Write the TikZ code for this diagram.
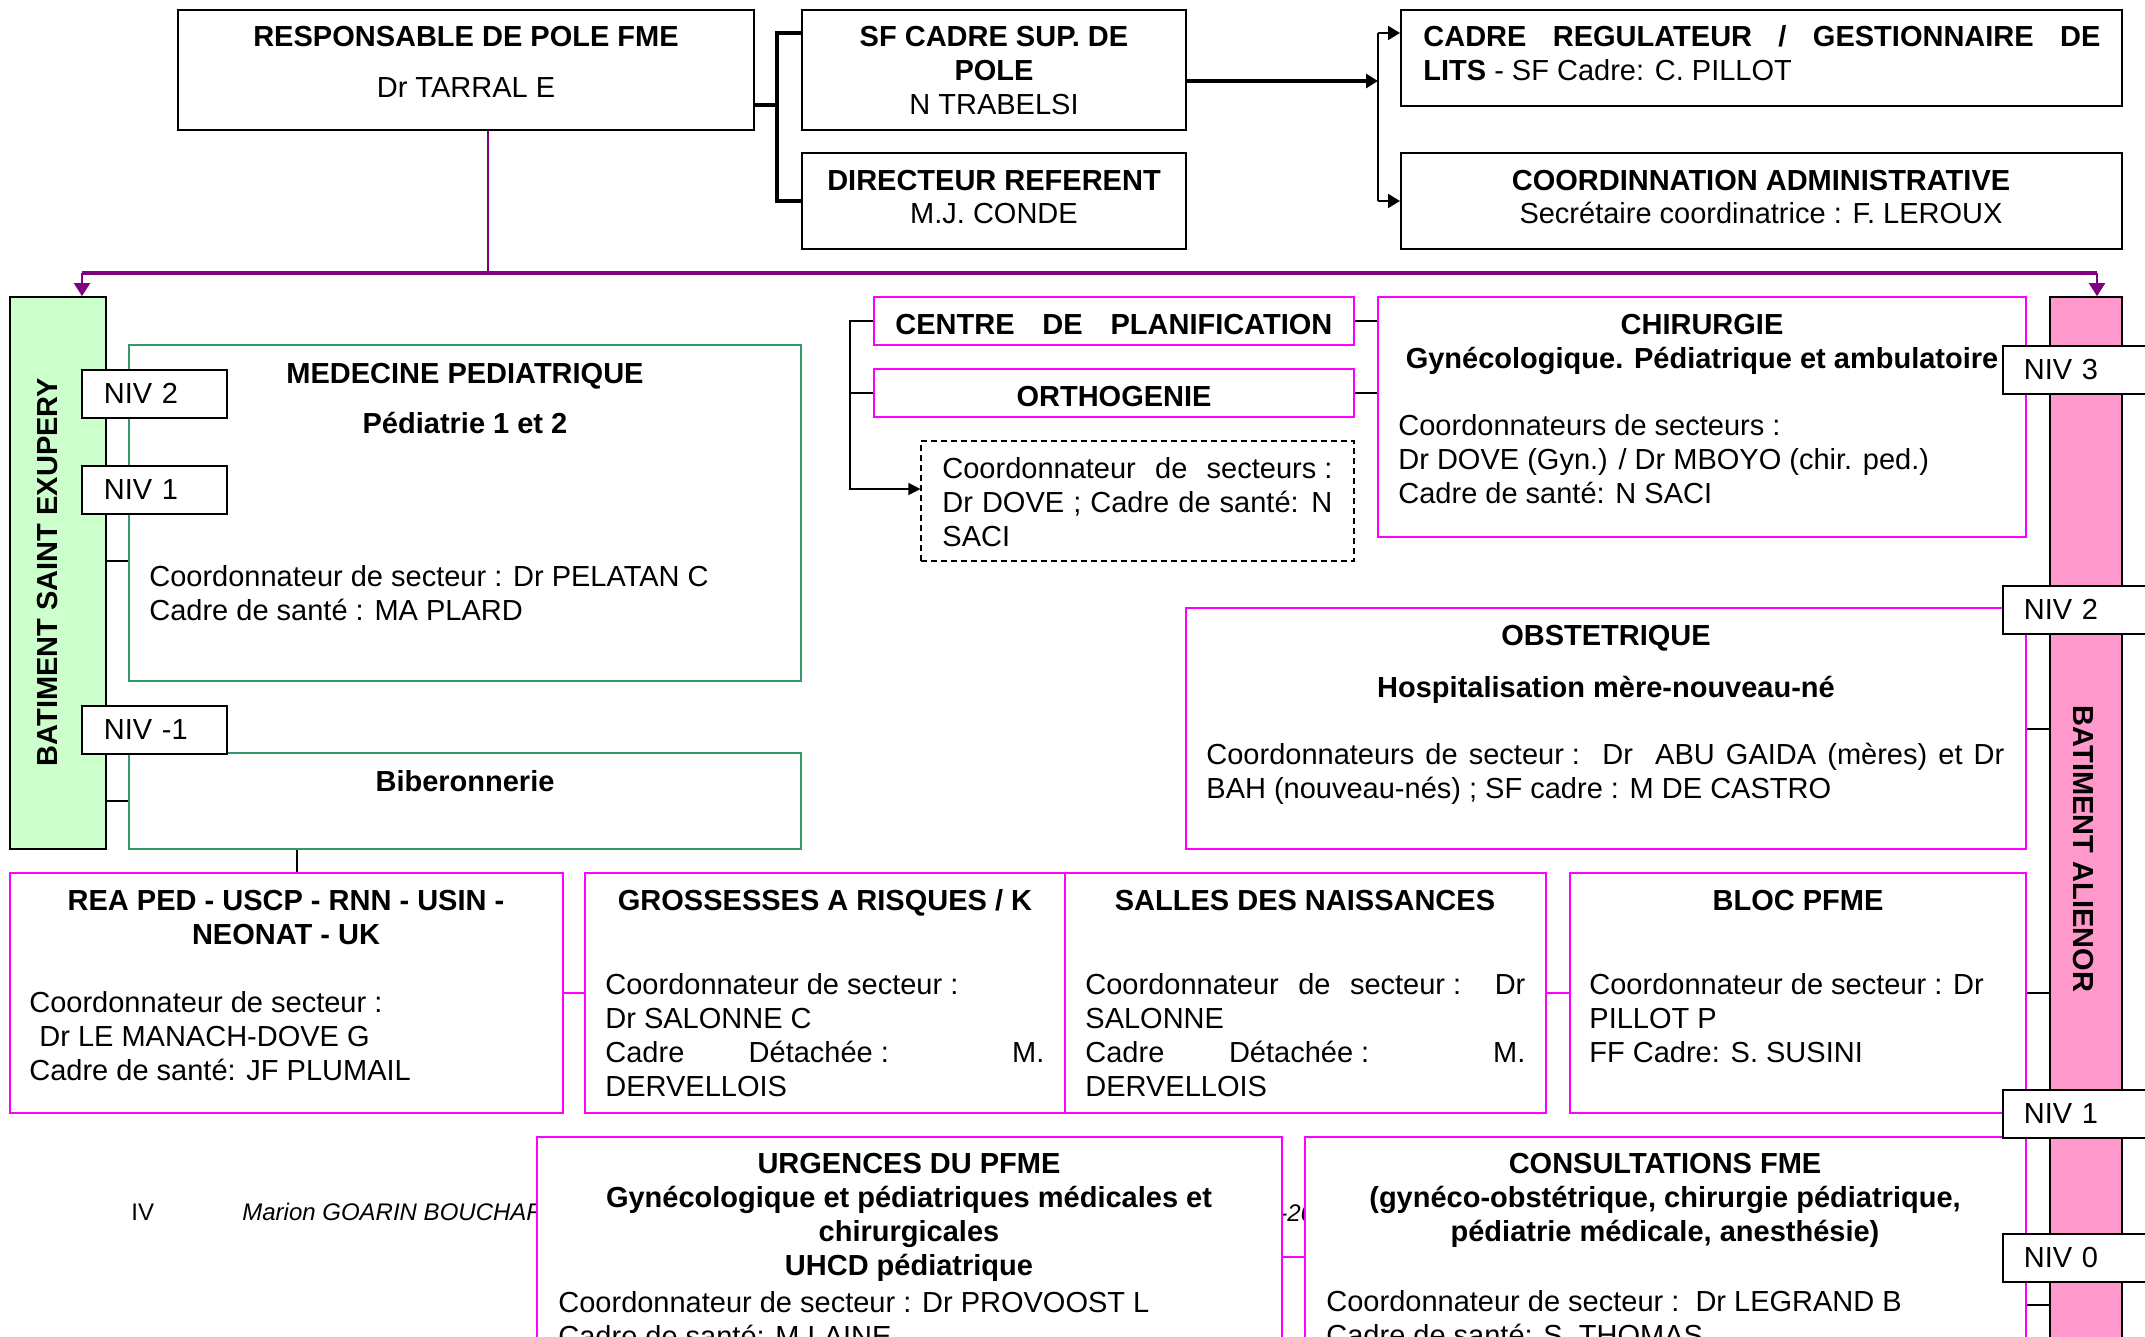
\documentclass[tikz,border=0pt]{standalone}
\usepackage{fontspec}
\setmainfont{Liberation Sans}
\usetikzlibrary{arrows.meta,fit,positioning}

\definecolor{fmemag}{RGB}{255,0,255}
\definecolor{fmevert}{RGB}{51,153,102}
\definecolor{fmevertclair}{RGB}{204,255,204}
\definecolor{fmerose}{RGB}{255,153,204}
\definecolor{fmeviolet}{RGB}{128,0,128}

\newcommand{\corps}{\fontsize{14.5}{17}\selectfont}
\newcommand{\pied}{\fontsize{12}{14}\selectfont}
\newcommand{\just}[2]{\makebox[#1][s]{#2}}
\newcommand{\deuxpts}{\hspace{4pt}:}

\begin{document}
\begin{tikzpicture}[x=0.5pt,y=-0.5pt,
    boite/.style={draw,line width=1pt,fill=white,inner sep=0pt},
    magbox/.style={draw=fmemag,line width=0.75pt,fill=white,inner sep=0pt},
    vertbox/.style={draw=fmevert,line width=0.9pt,fill=white,inner sep=0pt},
    batiment/.style={draw,line width=0.85pt,inner sep=0pt},
    niv/.style={draw,line width=0.85pt,fill=white,anchor=north west,font=\corps,
      minimum height=24pt,inner ysep=0pt,align=left},
    nivg/.style={niv,inner xsep=11pt,text width=50.5pt},
    nivd/.style={niv,inner xsep=10.5pt,text width=63pt},
    titre/.style={font=\corps\bfseries,align=center,anchor=base,inner sep=0pt},
    texte/.style={font=\corps,align=left,anchor=base west,inner sep=0pt},
    lien/.style={draw,line width=1.6pt},
    fleche/.style={lien,-{Triangle[length=6pt,width=7pt]}},
    violet/.style={draw=fmeviolet,line width=1pt},
    flecheviolette/.style={violet,-{Triangle[length=6.5pt,width=8pt]}},
    trait/.style={draw,line width=0.65pt},
    traitmag/.style={draw=fmemag,line width=0.75pt}]

  \useasboundingbox (0,0) rectangle (2145,1337);
  \clip (0,0) rectangle (2145,1337);
  \fill[white] (0,0) rectangle (2145,1337);

  % pied de page, en partie sous les cadres
  \begin{scope}[every node/.style={anchor=base west,inner sep=0pt}]
    \node[font=\pied] (pied-num) at (131,1220) {IV};
    \node[font=\pied\itshape] (pied-nom) at (242,1220) {Marion GOARIN BOUCHAR};
    \node[font=\pied\itshape] (pied-an) at (1279,1221) {-20};
  \end{scope}

  % direction
  % (ancre base = ligne de base de la derniere ligne)
  \node[boite,fit={(178,10) (754,130)}] (resp) {};
  \node[boite,fit={(802,10) (1186,130)}] (sfcadre) {};
  \node[boite,fit={(802,153) (1186,249)}] (dir) {};
  \node[boite,fit={(1401,10) (2122,106)}] (cadrereg) {};
  \node[boite,fit={(1401,153) (2122,249)}] (coordadm) {};

  \node[titre] (resp-t) at (466,98) {RESPONSABLE DE POLE FME\\[8.5pt]\mdseries Dr TARRAL E};
  \node[titre] (sfcadre-t) at (994,115) {SF CADRE SUP. DE\\POLE\\\mdseries N TRABELSI};
  \node[titre] (dir-t) at (994,224) {DIRECTEUR REFERENT\\\mdseries M.J. CONDE};
  \node[texte] (cadrereg-t) at (1423,81)
    {\textbf{\just{338.5pt}{CADRE REGULATEUR / GESTIONNAIRE DE}}\\\textbf{LITS} - SF Cadre: C. PILLOT};
  \node[titre] (coordadm-t) at (1761,224) {COORDINNATION ADMINISTRATIVE\\\mdseries Secrétaire coordinatrice : F. LEROUX};

  % services
  \node[vertbox,fit={(129,345) (801,681)}] (med) {};
  \node[vertbox,fit={(129,753) (801,849)}] (bib) {};
  \node[magbox,fit={(874,297) (1354,345)}] (plan) {};
  \node[magbox,fit={(874,369) (1354,417)}] (ortho) {};
  \node[draw,dash pattern=on 3pt off 2pt,line width=0.6pt,fill=white,inner sep=0pt,
    fit={(921,441) (1354,561)}] (coordpl) {};
  \node[magbox,fit={(1378,297) (2026,537)}] (chir) {};
  \node[magbox,fit={(1186,608) (2026,849)}] (obst) {};
  \node[magbox,fit={(10,873) (563,1113)}] (rea) {};
  \node[magbox,fit={(585,873) (1065,1113)}] (gross) {};
  \node[magbox,fit={(1065,873) (1546,1113)}] (salles) {};
  \node[magbox,fit={(1570,873) (2026,1113)}] (bloc) {};
  \node[magbox,fit={(537,1137) (1282,1400)}] (urg) {};
  \node[magbox,fit={(1305,1137) (2026,1400)}] (cons) {};

  \node[titre] (med-t) at (465,433) {MEDECINE PEDIATRIQUE\\[8pt]Pédiatrie 1 et 2};
  \node[texte] (med-c) at (149,620) {Coordonnateur de secteur : Dr PELATAN C\\Cadre de santé : MA PLARD};
  \node[titre] (bib-t) at (465,791) {Biberonnerie};
  \node[texte,font=\corps\bfseries] (plan-t) at (895,334) {\just{218.5pt}{CENTRE DE PLANIFICATION}};
  \node[titre] (ortho-t) at (1114,406) {ORTHOGENIE};
  \node[texte] (coordpl-t) at (942,546)
    {\just{195pt}{Coordonnateur de secteurs\deuxpts}\\\just{195pt}{Dr DOVE ; Cadre de santé: N}\\SACI};
  \node[titre] (chir-t) at (1702,368) {CHIRURGIE\\Gynécologique. Pédiatrique et ambulatoire};
  \node[texte] (chir-c) at (1398,503)
    {Coordonnateurs de secteurs :\\Dr DOVE (Gyn.) / Dr MBOYO (chir. ped.)\\Cadre de santé: N SACI};
  \node[titre] (obst-t) at (1606,697) {OBSTETRIQUE\\[9pt]Hospitalisation mère-nouveau-né};
  \node[texte] (obst-c) at (1206,798)
    {\just{399pt}{Coordonnateurs de secteur\deuxpts\ \ Dr\ \ ABU GAIDA (mères) et Dr}\\BAH (nouveau-nés) ; SF cadre : M DE CASTRO};
  \node[titre] (rea-t) at (286,944) {REA PED - USCP - RNN - USIN -\\NEONAT - UK};
  \node[texte] (rea-c) at (29,1080)
    {Coordonnateur de secteur :\\\hspace*{5pt}Dr LE MANACH-DOVE G\\Cadre de santé: JF PLUMAIL};
  \node[titre] (gross-t) at (825,910) {GROSSESSES A RISQUES / K};
  \node[texte] (gross-c) at (605,1096)
    {Coordonnateur de secteur :\\Dr SALONNE C\\\just{219.5pt}{Cadre Détachée\deuxpts{} M.}\\DERVELLOIS};
  \node[titre] (salles-t) at (1305,910) {SALLES DES NAISSANCES};
  \node[texte] (salles-c) at (1085,1096)
    {\just{220pt}{Coordonnateur de secteur\deuxpts{} Dr}\\SALONNE\\\just{220pt}{Cadre Détachée\deuxpts{} M.}\\DERVELLOIS};
  \node[titre] (bloc-t) at (1798,910) {BLOC PFME};
  \node[texte] (bloc-c) at (1589,1062) {Coordonnateur de secteur : Dr\\PILLOT P\\FF Cadre: S. SUSINI};
  \node[titre] (urg-t) at (909,1275)
    {URGENCES DU PFME\\Gynécologique et pédiatriques médicales et\\chirurgicales\\UHCD pédiatrique};
  \node[texte] (urg-c) at (558,1346) {Coordonnateur de secteur : Dr PROVOOST L\\Cadre de santé: M LAINE};
  \node[titre] (cons-t) at (1665,1241)
    {CONSULTATIONS FME\\(gynéco-obstétrique, chirurgie pédiatrique,\\pédiatrie médicale, anesthésie)};
  \node[texte] (cons-c) at (1326,1345) {Coordonnateur de secteur :\ \ Dr LEGRAND B\\Cadre de santé: S. THOMAS};

  % batiments et niveaux
  \node[batiment,fill=fmevertclair,fit={(10,297) (106,849)}] (batsx) {};
  \node[batiment,fill=fmerose,fit={(2050,297) (2122,1400)}] (batal) {};
  \node[font=\corps\bfseries,rotate=90,inner sep=0pt] (batsx-t) at (48,572) {BATIMENT SAINT EXUPERY};
  \node[font=\corps\bfseries,rotate=-90,inner sep=0pt] (batal-t) at (2083,849) {BATIMENT ALIENOR};

  \node[nivg] (niv2g) at (81,369) {NIV 2};
  \node[nivg] (niv1g) at (81,465) {NIV 1};
  \node[nivg] (nivm1g) at (81,705) {NIV -1};
  \node[nivd] (niv3d) at (2002,345) {NIV 3};
  \node[nivd] (niv2d) at (2002,585) {NIV 2};
  \node[nivd] (niv1d) at (2002,1089) {NIV 1};
  \node[nivd] (niv0d) at (2002,1233) {NIV 0};

  % liaisons du haut
  \coordinate (bm) at (777,105);
  \coordinate (bh) at (777,33);
  \coordinate (bb) at (777,201);
  \draw[lien] (bm -| resp.east) -- (bm);
  \draw[lien] (bh -| sfcadre.west) -- (bh) -- (bb) -- (bb -| dir.west);
  \coordinate (am) at (1378,81);
  \coordinate (ah) at (1378,33);
  \coordinate (ab) at (1378,201);
  \draw[fleche] (am -| sfcadre.east) -- (am);
  \draw[draw,line width=1pt] (ah) -- (ab);
  \draw[fleche,line width=1pt] (ah) -- (ah -| cadrereg.west);
  \draw[fleche,line width=1pt] (ab) -- (ab -| coordadm.west);

  % vers les batiments
  \coordinate (pc) at (488,273);
  \coordinate (pg) at (82,273);
  \coordinate (pd) at (2097,273);
  \draw[violet] (pc |- resp.south) -- (pc);
  \draw[violet,line width=1.7pt] (pg) -- (pd);
  \draw[flecheviolette] (pg) -- (pg |- batsx.north);
  \draw[flecheviolette] (pd) -- (pd |- batal.north);

  % liaisons des services
  \coordinate (cm) at (0,561);
  \coordinate (cb) at (0,801);
  \coordinate (cr) at (297,0);
  \draw[trait] (batsx.east |- cm) -- (med.west |- cm);
  \draw[trait] (batsx.east |- cb) -- (bib.west |- cb);
  \draw[trait] (bib.south -| cr) -- (rea.north -| cr);

  \coordinate (pb) at (850,489);
  \draw[trait,-{Triangle[length=6pt,width=6pt]}] (plan.west) -| (pb) -- (pb -| coordpl.west);
  \draw[trait] (ortho.west) -- (ortho.west -| pb);
  \draw[trait] (plan.east) -- (plan.east -| chir.west);
  \draw[trait] (ortho.east) -- (ortho.east -| chir.west);

  \coordinate (co) at (0,729);
  \coordinate (r1) at (0,993);
  \coordinate (r2) at (0,1257);
  \coordinate (r3) at (0,1305);
  \draw[trait] (obst.east |- co) -- (batal.west |- co);
  \draw[traitmag] (rea.east |- r1) -- (gross.west |- r1);
  \draw[traitmag] (salles.east |- r1) -- (bloc.west |- r1);
  \draw[trait] (bloc.east |- r1) -- (batal.west |- r1);
  \draw[traitmag] (urg.east |- r2) -- (cons.west |- r2);
  \draw[trait] (cons.east |- r3) -- (batal.west |- r3);

\end{tikzpicture}
\end{document}
